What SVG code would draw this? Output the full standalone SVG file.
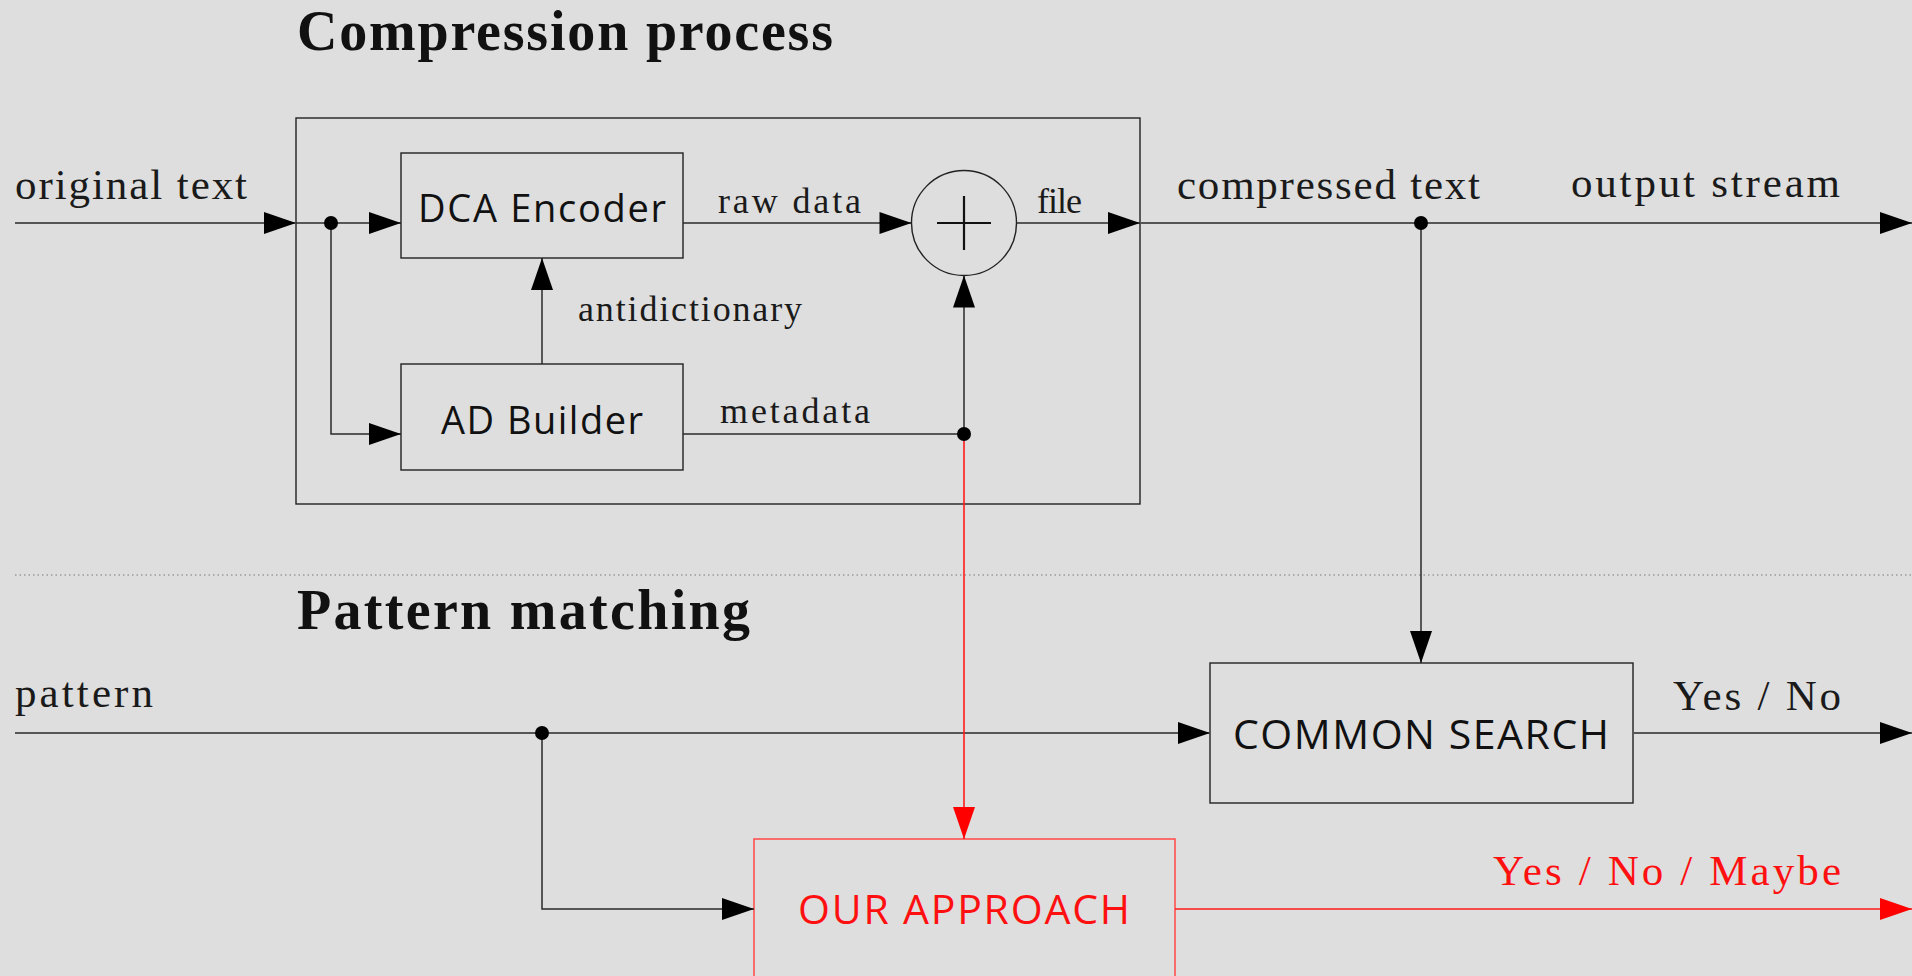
<svg xmlns="http://www.w3.org/2000/svg" width="1912" height="976" viewBox="0 0 1912 976">
<defs>
<style>
.serif{font-family:"Liberation Serif","DejaVu Serif",serif;fill:#1a1a1a}
.title{font-family:"Liberation Serif","DejaVu Serif",serif;font-weight:bold;font-size:56px;fill:#111}
.lbl{font-size:43px}
.sm{font-size:36px}
.sans{font-family:"Open Sans","DejaVu Sans",sans-serif;fill:#111}
.box{fill:none;stroke:#222;stroke-width:1.4}
.rbox{fill:none;stroke:#ff5050;stroke-width:1.6}
.ln{fill:none;stroke:#2a2a2a;stroke-width:1.5}
.main{fill:none;stroke:#555;stroke-width:2.2}
.red{fill:none;stroke:#ff1a1a;stroke-width:1.6}
.redt{fill:#ff1010}
.dot{fill:#000}
</style>
<marker id="ah" markerUnits="userSpaceOnUse" markerWidth="32" markerHeight="22" refX="32" refY="11" orient="auto" overflow="visible">
<path d="M0,0 L32,11 L0,22 Z" fill="#000"/>
</marker>
<marker id="ahr" markerUnits="userSpaceOnUse" markerWidth="32" markerHeight="22" refX="32" refY="11" orient="auto" overflow="visible">
<path d="M0,0 L32,11 L0,22 Z" fill="#ff0000"/>
</marker>
</defs>
<rect x="0" y="0" width="1912" height="976" fill="#dedede"/>

<g id="titles">
<text class="title" x="297" y="50" textLength="536">Compression process</text>
<text class="title" x="297" y="629" textLength="453">Pattern matching</text>
</g>

<g id="separator">
<path d="M15,575 H1912" fill="none" stroke="#9a9a9a" stroke-width="1.3" stroke-dasharray="1.5 3"/>
</g>

<g id="compression-box">
<rect class="box" x="296" y="118" width="844" height="386"/>
</g>

<g id="dca-encoder">
<rect class="box" x="401" y="153" width="282" height="105"/>
<text class="sans" x="542" y="222" font-size="38" text-anchor="middle" textLength="248">DCA Encoder</text>
</g>

<g id="ad-builder">
<rect class="box" x="401" y="364" width="282" height="106"/>
<text class="sans" x="542" y="434" font-size="38" text-anchor="middle" textLength="202">AD Builder</text>
</g>

<g id="adder">
<circle cx="964" cy="223" r="52.5" fill="none" stroke="#222" stroke-width="1.4"/>
<path d="M937,223 H991 M964,196 V250" stroke="#111" stroke-width="2.2" fill="none"/>
</g>

<g id="common-search">
<rect class="box" x="1210" y="663" width="423" height="140"/>
<text class="sans" x="1421" y="749" font-size="41" text-anchor="middle" textLength="376">COMMON SEARCH</text>
</g>

<g id="our-approach">
<rect class="rbox" x="754" y="839" width="421" height="160"/>
<text class="sans" x="964" y="924" font-size="41" text-anchor="middle" textLength="332" style="fill:#ff1010">OUR APPROACH</text>
</g>

<g id="connectors">
<path class="main" d="M15,223 H296" marker-end="url(#ah)"/>
<path class="ln" d="M296,223 H401" marker-end="url(#ah)"/>
<path class="ln" d="M331,223 V434 H401" marker-end="url(#ah)"/>
<path class="ln" d="M542,364 V258" marker-end="url(#ah)"/>
<path class="ln" d="M683,223 H911.5" marker-end="url(#ah)"/>
<path class="ln" d="M683,434 H964"/>
<path class="ln" d="M964,434 V275.5" marker-end="url(#ah)"/>
<path class="ln" d="M1016.5,223 H1140" marker-end="url(#ah)"/>
<path class="main" d="M1140,223 H1912" marker-end="url(#ah)"/>
<path class="ln" d="M1421,223 V663" marker-end="url(#ah)"/>
<path class="main" d="M15,733 H1210" marker-end="url(#ah)"/>
<path class="ln" d="M542,733 V909 H754" marker-end="url(#ah)"/>
<path class="main" d="M1633,733 H1912" marker-end="url(#ah)"/>
<path class="red" d="M964,434 V839" marker-end="url(#ahr)"/>
<path class="red" d="M1175,909 H1912" marker-end="url(#ahr)"/>
<circle class="dot" cx="331" cy="223" r="7"/>
<circle class="dot" cx="964" cy="434" r="7"/>
<circle class="dot" cx="1421" cy="223" r="7"/>
<circle class="dot" cx="542" cy="733" r="7"/>
</g>

<g id="labels">
<text class="serif lbl" x="15" y="199" textLength="232">original text</text>
<text class="serif sm" x="718" y="213" textLength="143">raw data</text>
<text class="serif sm" x="1037" y="213" textLength="45">file</text>
<text class="serif sm" x="578" y="321" textLength="224">antidictionary</text>
<text class="serif sm" x="720" y="423" textLength="150">metadata</text>
<text class="serif lbl" x="1177" y="199" textLength="303">compressed text</text>
<text class="serif lbl" x="1571" y="197" textLength="269">output stream</text>
<text class="serif lbl" x="15" y="707" textLength="138">pattern</text>
<text class="serif lbl" x="1673" y="710" textLength="168">Yes / No</text>
<text class="serif lbl redt" x="1493" y="885" textLength="348" style="fill:#ff1010">Yes / No / Maybe</text>
</g>
</svg>
